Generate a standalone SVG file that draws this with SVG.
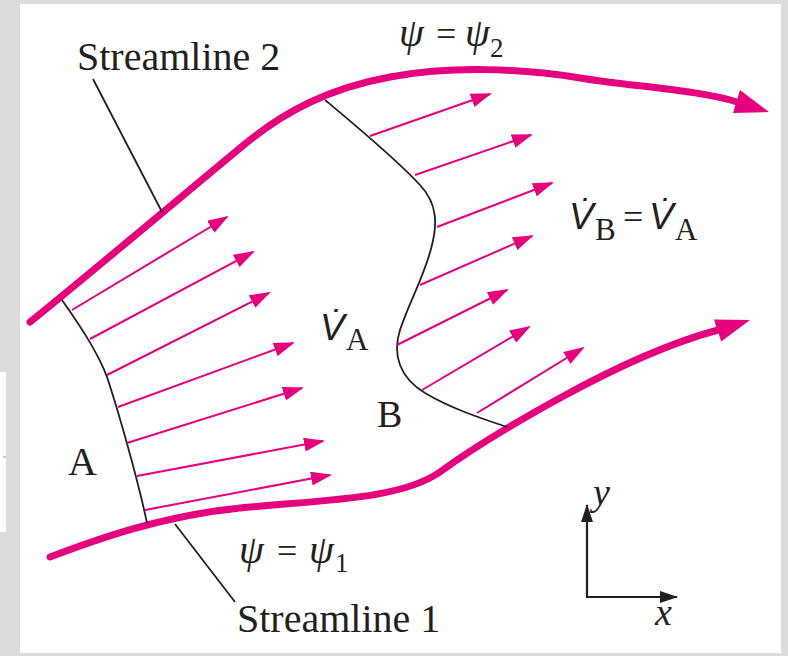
<svg xmlns="http://www.w3.org/2000/svg" width="788" height="656" viewBox="0 0 788 656">
<defs>
<style>
.thick{fill:none;stroke:#e5007e;stroke-width:7;stroke-linecap:round;stroke-linejoin:round}
.head{fill:#e5007e;stroke:none}
.vec{fill:none;stroke:#e5007e;stroke-width:2;marker-end:url(#ah)}
.sec{fill:none;stroke:#231f20;stroke-width:1.8}
.axis{fill:none;stroke:#231f20;stroke-width:2.2;marker-end:url(#ax)}
.serif{font-family:"Liberation Serif","Times New Roman",serif;fill:#231f20}
.sans{font-family:"Liberation Sans",Arial,sans-serif;fill:#231f20}
.it{font-style:italic}
</style>
<marker id="ah" markerUnits="userSpaceOnUse" markerWidth="21" markerHeight="14" viewBox="0 0 21 14" refX="19" refY="7" orient="auto">
<path d="M0,0 L21,7 L0,14 z" fill="#e5007e"/>
</marker>
<marker id="ax" markerUnits="userSpaceOnUse" markerWidth="18" markerHeight="12" viewBox="0 0 18 12" refX="17" refY="6" orient="auto">
<path d="M0,0 L18,6 L0,12 z" fill="#231f20"/>
</marker>
</defs>
<rect x="0" y="0" width="788" height="656" fill="#dcdcdc"/>
<rect x="20" y="4" width="761" height="649" fill="#ffffff"/>
<rect x="0" y="372" width="6" height="160" fill="#ffffff"/>
<rect x="3" y="456" width="3" height="2" fill="#c8c8c8"/>

<g id="streamline2">
<path class="thick" d="M30,322 C80,282 200,181 245,144 C285,111 330,88 390,77 C450,66 520,68 580,78 C630,86.3 700,90 737,102"/>
<polygon class="head" points="769,112 740,90 733,113"/>
</g>
<g id="streamline1">
<path class="thick" d="M50,557 C95,540 160,516 240,508 C320,500 400,500 440,472 C470,450 520,420 560,398 C620,365 670,343 718,330"/>
<polygon class="head" points="750,320 714,319.6 721.2,341.4"/>
</g>

<g id="sectionA">
<path class="sec" d="M62,300 C76,320 97,350 107,377 C118,410 138,480 147,523"/>
</g>
<g id="sectionB">
<path class="sec" d="M325,100 C355,125 395,158 420,185 C438,204 437,225 432,245 C425,275 410,300 400,330 C392,355 400,378 425,393 C450,408 480,418 507,427"/>
</g>

<g id="connectors">
<line class="sec" x1="93" y1="79" x2="162" y2="212"/>
<line class="sec" x1="175" y1="524" x2="235" y2="602"/>
<line class="vec" x1="72" y1="310" x2="227" y2="217"/>
<line class="vec" x1="90" y1="339" x2="253" y2="252"/>
<line class="vec" x1="107" y1="375" x2="269" y2="293"/>
<line class="vec" x1="118" y1="407" x2="293" y2="343"/>
<line class="vec" x1="127" y1="443" x2="302" y2="388"/>
<line class="vec" x1="137" y1="476" x2="323" y2="441"/>
<line class="vec" x1="145" y1="510" x2="330" y2="475"/>
<line class="vec" x1="370" y1="136" x2="490" y2="94"/>
<line class="vec" x1="415" y1="175" x2="531" y2="135"/>
<line class="vec" x1="437" y1="227" x2="552" y2="183"/>
<line class="vec" x1="420" y1="285" x2="532" y2="236"/>
<line class="vec" x1="397" y1="345" x2="507" y2="290"/>
<line class="vec" x1="422" y1="390" x2="529" y2="327"/>
<line class="vec" x1="477" y1="413" x2="583" y2="348"/>
<line class="axis" x1="587" y1="598" x2="587" y2="505"/>
<line class="axis" x1="586" y1="597" x2="677" y2="597"/>
</g>

<g id="labels">
<text class="serif" x="77" y="70" font-size="40">Streamline 2</text>
<text class="serif" x="237" y="632" font-size="40">Streamline 1</text>
<text class="serif" x="68" y="475" font-size="40">A</text>
<text class="serif" x="377" y="427" font-size="38">B</text>
<text class="serif" font-size="36"><tspan class="it" x="399" y="46" font-size="40">ψ</tspan><tspan x="436" y="46">=</tspan><tspan class="it" x="465" y="46" font-size="40">ψ</tspan><tspan x="490" y="57" font-size="27">2</tspan></text>
<text class="serif" font-size="36"><tspan class="it" x="239" y="563" font-size="40">ψ</tspan><tspan x="277" y="563">=</tspan><tspan class="it" x="309" y="563" font-size="40">ψ</tspan><tspan x="335" y="572" font-size="27">1</tspan></text>
<text class="serif" font-size="31"><tspan class="sans it" x="320" y="340" font-size="37">V̇</tspan><tspan x="346" y="350">A</tspan></text>
<text class="serif" font-size="31"><tspan class="sans it" x="569" y="229" font-size="37">V̇</tspan><tspan x="595" y="240">B</tspan><tspan x="623" y="229" font-size="36">=</tspan><tspan class="sans it" x="649" y="229" font-size="37">V̇</tspan><tspan x="675" y="240">A</tspan></text>
<text class="serif it" x="593" y="505" font-size="38">y</text>
<text class="serif it" x="655" y="625" font-size="38">x</text>
</g>
</svg>
